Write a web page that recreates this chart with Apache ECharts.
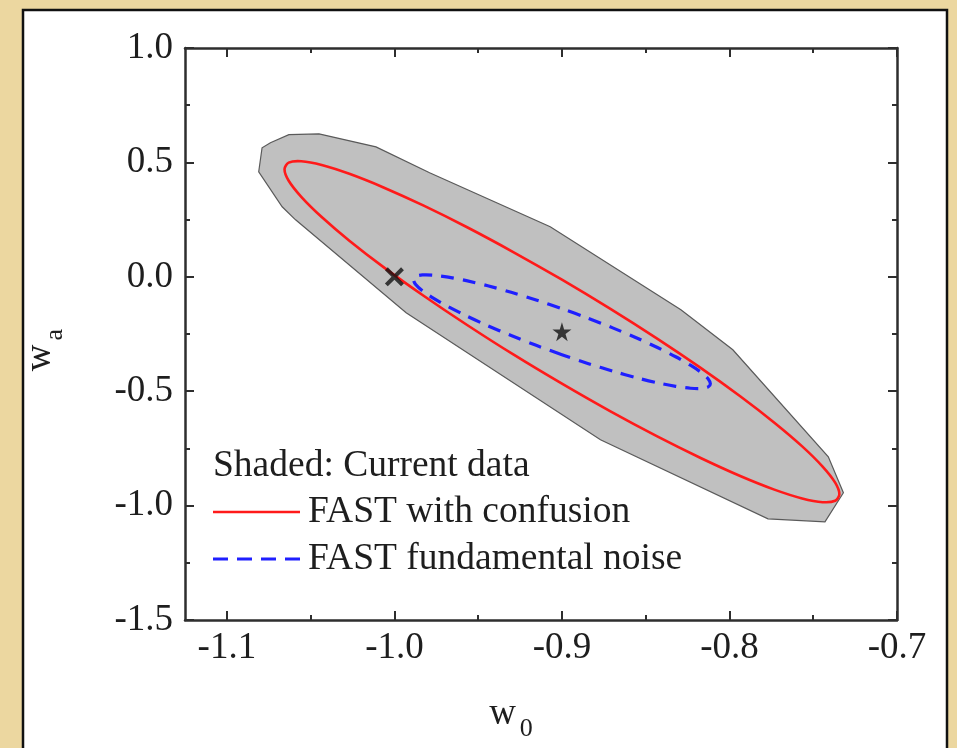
<!DOCTYPE html>
<html>
<head>
<meta charset="utf-8">
<script src="https://cdn.jsdelivr.net/npm/echarts@6/dist/echarts.min.js"></script>
<style>
html,body{margin:0;padding:0;background:#ecd7a0;}
#chart{width:957px;height:748px;}
</style>
</head>
<body>
<div id="chart"></div>
<script>
// ---- data ----
const xTickValues = [-1.1, -1.0, -0.9, -0.8, -0.7];
const xMinorTickValues = [-1.05, -0.95, -0.85, -0.75];
const yTickValues = [-1.5, -1.0, -0.5, 0.0, 0.5, 1.0];

// Shaded: Current data (contour polygon)
const currentDataW0 = [-1.081, -1.079, -1.074, -1.063, -1.045, -1.011, -0.979, -0.907, -0.829, -0.798,
  -0.741, -0.732, -0.743, -0.777, -0.877, -0.993, -1.059, -1.067];
const currentDataWa = [0.459, 0.564, 0.586, 0.621, 0.625, 0.568, 0.455, 0.219, -0.144, -0.319,
  -0.787, -0.944, -1.071, -1.058, -0.712, -0.157, 0.249, 0.306];

// FAST with confusion (red solid contour)
const fastConfusionW0 = [-0.9000, -0.9288, -0.9566, -0.9828, -1.0065, -1.0269, -1.0434, -1.0556, -1.0631, -1.0656,
  -1.0631, -1.0556, -1.0434, -1.0269, -1.0065, -0.9828, -0.9566, -0.9288, -0.9000, -0.8713,
  -0.8434, -0.8172, -0.7936, -0.7732, -0.7566, -0.7444, -0.7369, -0.7344, -0.7369, -0.7444,
  -0.7566, -0.7732, -0.7936, -0.8172, -0.8434, -0.8713];
const fastConfusionWa = [-0.4673, -0.3406, -0.2107, -0.0817, 0.0424, 0.1579, 0.2613, 0.3497, 0.4199, 0.4702,
  0.4989, 0.5051, 0.4887, 0.4501, 0.3906, 0.3119, 0.2165, 0.1072, -0.0127, -0.1394,
  -0.2693, -0.3983, -0.5224, -0.6379, -0.7413, -0.8297, -0.8999, -0.9502, -0.9789, -0.9851,
  -0.9687, -0.9301, -0.8706, -0.7919, -0.6965, -0.5872];

// FAST fundamental noise (blue dashed contour)
const fastNoiseW0 = [-0.9000, -0.9154, -0.9303, -0.9443, -0.9570, -0.9679, -0.9768, -0.9833, -0.9873, -0.9886,
  -0.9873, -0.9833, -0.9768, -0.9679, -0.9570, -0.9443, -0.9303, -0.9154, -0.9000, -0.8846,
  -0.8697, -0.8557, -0.8430, -0.8321, -0.8233, -0.8167, -0.8127, -0.8114, -0.8127, -0.8167,
  -0.8233, -0.8321, -0.8430, -0.8557, -0.8697, -0.8846];
const fastNoiseWa = [-0.3405, -0.2995, -0.2568, -0.2135, -0.1709, -0.1305, -0.0935, -0.0608, -0.0337, -0.0127,
  0.0013, 0.0080, 0.0071, -0.0013, -0.0169, -0.0393, -0.0678, -0.1015, -0.1395, -0.1805,
  -0.2232, -0.2665, -0.3091, -0.3495, -0.3865, -0.4192, -0.4463, -0.4673, -0.4813, -0.4880,
  -0.4871, -0.4787, -0.4631, -0.4407, -0.4122, -0.3785];

// markers
const lcdmPoint = [-1.0, 0.0];      // cross
const fiducialPoint = [-0.9, -0.24]; // star

// legend labels
const legendLabels = ['Shaded: Current data', 'FAST with confusion', 'FAST fundamental noise'];

// ---- chart ----
const FONT = "'Liberation Serif','Times New Roman',serif";
const TXT = '#1e1e1e';
const AX = '#2e2e2e';
const RED = '#ff1a1a';
const BLUE = '#1f1fff';

function polygonSeries(name, xs, ys, style, smooth, z) {
  return {
    type: 'custom', name: name, z: z,
    xAxisIndex: 0, yAxisIndex: 0,
    data: xs.map((x, i) => [x, ys[i]]),
    renderItem: function (params, api) {
      if (params.dataIndex !== 0) return null;
      const pts = xs.map((x, i) => api.coord([x, ys[i]]));
      return { type: 'polygon', shape: { points: pts, smooth: smooth }, style: style };
    }
  };
}

const chart = echarts.init(document.getElementById('chart'), null, { renderer: 'canvas' });

const commonX = { type: 'value', min: -1.125, max: -0.7, splitLine: { show: false } };
const commonY = { type: 'value', min: -1.5, max: 1.0, interval: 0.5, splitLine: { show: false } };
const subRich = {
  w: { fontSize: 37, fontFamily: FONT, color: TXT, lineHeight: 37 },
  s: { fontSize: 26, fontFamily: FONT, color: TXT, lineHeight: 26, padding: [30, 0, 0, 4] }
};

chart.setOption({
  backgroundColor: '#ecd7a0',
  animation: false,
  grid: { left: 185, right: 60, top: 48, bottom: 128 },
  graphic: [
    { type: 'rect', z: -10, shape: { x: 23, y: 10, width: 924, height: 780 },
      style: { fill: '#ffffff', stroke: '#111', lineWidth: 2.5 } },
    { type: 'text', z: 100, style: { x: 213, y: 466, verticalAlign: 'middle',
      text: legendLabels[0], font: '37.5px ' + FONT, fill: TXT } },
    { type: 'line', z: 100, shape: { x1: 213, y1: 512, x2: 300, y2: 512 },
      style: { stroke: RED, lineWidth: 2.6 } },
    { type: 'text', z: 100, style: { x: 308, y: 512, verticalAlign: 'middle',
      text: legendLabels[1], font: '37.5px ' + FONT, fill: TXT } },
    { type: 'line', z: 100, shape: { x1: 213, y1: 559, x2: 300, y2: 559 },
      style: { stroke: BLUE, lineWidth: 3.2, lineDash: [15, 9] } },
    { type: 'text', z: 100, style: { x: 308, y: 559, verticalAlign: 'middle',
      text: legendLabels[2], font: '37.5px ' + FONT, fill: TXT } }
  ],
  xAxis: [
    Object.assign({}, commonX, {
      position: 'bottom',
      axisLine: { show: true, onZero: false, lineStyle: { color: AX, width: 2.5 } },
      axisTick: { show: true, inside: true, length: 9, customValues: xTickValues, lineStyle: { color: AX, width: 2 } },
      axisLabel: { show: true, customValues: xTickValues, margin: 10, fontSize: 37, fontFamily: FONT, color: TXT,
        formatter: v => v.toFixed(1) },
      name: '{w|w}{s|0}', nameLocation: 'middle', nameGap: 76,
      nameTextStyle: { padding: [0, 60, 0, 0], rich: subRich }
    }),
    Object.assign({}, commonX, {
      position: 'bottom',
      axisLine: { show: false, onZero: false },
      axisTick: { show: true, inside: true, length: 5, customValues: xMinorTickValues, lineStyle: { color: AX, width: 2 } },
      axisLabel: { show: false }
    }),
    Object.assign({}, commonX, {
      position: 'top',
      axisLine: { show: true, onZero: false, lineStyle: { color: AX, width: 2.5 } },
      axisTick: { show: true, inside: true, length: 9, customValues: xTickValues, lineStyle: { color: AX, width: 2 } },
      axisLabel: { show: false }
    }),
    Object.assign({}, commonX, {
      position: 'top',
      axisLine: { show: false, onZero: false },
      axisTick: { show: true, inside: true, length: 5, customValues: xMinorTickValues, lineStyle: { color: AX, width: 2 } },
      axisLabel: { show: false }
    })
  ],
  yAxis: [
    Object.assign({}, commonY, {
      position: 'left',
      axisLine: { show: true, onZero: false, lineStyle: { color: AX, width: 2.5 } },
      axisTick: { show: true, inside: true, length: 9, lineStyle: { color: AX, width: 2 } },
      minorTick: { show: true, splitNumber: 2, length: 5, lineStyle: { color: AX, width: 2 } },
      axisLabel: { show: true, customValues: yTickValues, margin: 12, fontSize: 37, fontFamily: FONT, color: TXT,
        formatter: v => v.toFixed(1) },
      name: '{w|w}{s|a}', nameLocation: 'middle', nameGap: 126, nameRotate: 90,
      nameTextStyle: { padding: [0, 32, 0, 0], rich: subRich }
    }),
    Object.assign({}, commonY, {
      position: 'right',
      axisLine: { show: true, onZero: false, lineStyle: { color: AX, width: 2.5 } },
      axisTick: { show: true, inside: true, length: 9, lineStyle: { color: AX, width: 2 } },
      minorTick: { show: true, splitNumber: 2, length: 5, lineStyle: { color: AX, width: 2 } },
      axisLabel: { show: false }
    })
  ],
  series: [
    polygonSeries(legendLabels[0], currentDataW0, currentDataWa,
      { fill: '#c0c0c0', stroke: '#5a5a5a', lineWidth: 1.2 }, 0, 1),
    polygonSeries(legendLabels[1], fastConfusionW0, fastConfusionWa,
      { fill: 'none', stroke: RED, lineWidth: 2.6 }, 0.3, 2),
    polygonSeries(legendLabels[2], fastNoiseW0, fastNoiseWa,
      { fill: 'none', stroke: BLUE, lineWidth: 3.2, lineDash: [13, 9] }, 0.3, 3),
    { type: 'scatter', name: 'w0=-1, wa=0', z: 5, data: [lcdmPoint],
      symbol: 'path://M0,3L3,0L10,7L17,0L20,3L13,10L20,17L17,20L10,13L3,20L0,17L7,10Z',
      symbolSize: 19, itemStyle: { color: '#111' } },
    { type: 'scatter', name: 'fiducial', z: 5, data: [fiducialPoint],
      symbol: 'path://M50,0L61,35L98,35L68,57L79,91L50,70L21,91L32,57L2,35L39,35Z',
      symbolSize: 19, itemStyle: { color: '#111' } }
  ]
});
</script>
</body>
</html>
